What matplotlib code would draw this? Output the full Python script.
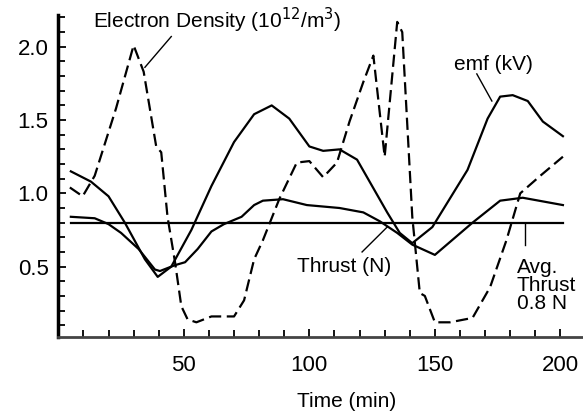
#!/usr/bin/env python

import matplotlib
matplotlib.use("Agg")
import matplotlib.pyplot as plt
from matplotlib.ticker import MultipleLocator

# values (time in min)
emf_t = [5, 13, 20, 26.5, 34.5, 39.6, 45, 53, 61, 70, 78, 85, 92, 100, 105.5, 112,
         119, 125, 131, 136, 141, 149, 163, 171, 176, 181, 187, 193, 201]
emf_v = [1.15, 1.08, 0.98, 0.80, 0.55, 0.43, 0.50, 0.75, 1.05, 1.35, 1.54, 1.60, 1.51,
         1.32, 1.29, 1.30, 1.23, 1.05, 0.87, 0.73, 0.66, 0.77, 1.16, 1.51, 1.66, 1.67,
         1.63, 1.49, 1.39]

thrust_t = [5, 14.5, 20, 25, 32, 38.5, 40.5, 46.5, 50.5, 55.5, 61, 66, 73, 78, 81.5,
            89.5, 99, 112, 121.5, 128, 135, 141, 150, 165, 176, 185, 201]
thrust_v = [0.84, 0.83, 0.79, 0.73, 0.62, 0.48, 0.47, 0.51, 0.53, 0.62, 0.74, 0.79,
            0.84, 0.92, 0.95, 0.96, 0.92, 0.90, 0.87, 0.81, 0.73, 0.65, 0.58, 0.80,
            0.95, 0.97, 0.92]

density_t = [4.6, 9.7, 14.5, 23, 30, 34, 39, 41, 43.5, 46.5, 49, 51.5, 55, 61, 70,
             74, 78, 81.5, 88, 95, 100, 105.5, 111, 116, 121.5, 125.5, 130, 135, 137,
             141, 144, 146, 150, 156, 165, 172, 178.5, 184, 192, 201]
density_v = [1.04, 0.98, 1.12, 1.58, 2.01, 1.83, 1.32, 1.28, 0.84, 0.53, 0.23, 0.14,
             0.12, 0.16, 0.16, 0.27, 0.55, 0.68, 0.96, 1.21, 1.22, 1.11, 1.21, 1.49,
             1.76, 1.94, 1.25, 2.17, 2.10, 0.84, 0.32, 0.30, 0.12, 0.12, 0.15, 0.36,
             0.68, 1.00, 1.12, 1.25]

avg_thrust = 0.8
avg_span = [5, 201]

FONT = ["Liberation Sans", "DejaVu Sans"]


def main():

    plt.rcParams["font.family"] = FONT
    fig = plt.figure(figsize=(5.83, 4.16), dpi=100)
    ax = fig.add_axes([0.1, 0.19, 0.9, 0.775])

    ax.plot(emf_t, emf_v, color="black", linewidth=1.6)
    ax.plot(thrust_t, thrust_v, color="black", linewidth=1.6)
    ax.plot(density_t, density_v, color="black", linewidth=1.6, linestyle=(0, (5.5, 2.5)))
    ax.plot(avg_span, [avg_thrust, avg_thrust], color="black", linewidth=1.6)

    ax.set_xlim(0, 209)
    ax.set_ylim(0.02, 2.22)

    for side in ("top", "right"):
        ax.spines[side].set_visible(False)
    ax.spines["left"].set_linewidth(2.5)
    ax.spines["bottom"].set_linewidth(2.0)
    ax.spines["bottom"].set_color("#444444")

    ax.set_yticks([0.5, 1.0, 1.5, 2.0])
    ax.set_yticklabels(["0.5", "1.0", "1.5", "2.0"])
    ax.yaxis.set_minor_locator(MultipleLocator(0.1))
    ax.set_xticks([50, 100, 150, 200])
    ax.xaxis.set_minor_locator(MultipleLocator(10))
    ax.tick_params(which="both", direction="in", width=1.3, labelsize=16)
    ax.tick_params(which="major", length=6)
    ax.tick_params(which="minor", length=5)
    ax.tick_params(axis="y", pad=7)
    ax.tick_params(axis="x", pad=13)

    ax.set_xlabel("Time (min)", fontsize=15)
    ax.xaxis.set_label_coords(0.55, -0.17)

    # labels with their pointer lines
    ax.text(13.8, 2.18, "Electron Density (10$^{12}$/m$^3$)", fontsize=15,
            ha="left", va="center", clip_on=False)
    ax.plot([45, 34.5], [2.07, 1.86], color="black", linewidth=1.0)

    ax.text(157.5, 1.88, "emf (kV)", fontsize=15, ha="left", va="center")
    ax.plot([166.7, 172.7], [1.815, 1.63], color="black", linewidth=1.0)

    ax.text(95, 0.50, "Thrust (N)", fontsize=15, ha="left", va="center")
    ax.plot([121, 131], [0.60, 0.77], color="black", linewidth=1.0)

    ax.text(182.7, 0.37, "Avg.\nThrust\n0.8 N", fontsize=15, ha="left", va="center",
            linespacing=0.92)
    ax.plot([186, 186], [0.80, 0.65], color="black", linewidth=1.0)

    fig.savefig("out.png", dpi=100)


if __name__ == "__main__":
    main()
